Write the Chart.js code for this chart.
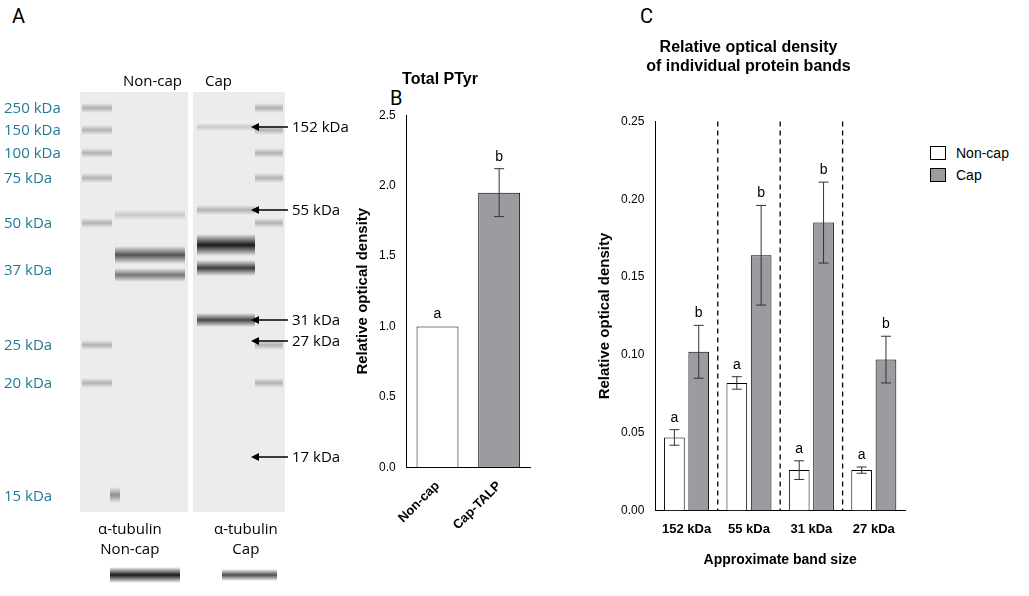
<!DOCTYPE html>
<html><head><meta charset="utf-8">
<script src="https://cdn.jsdelivr.net/npm/chart.js@4/dist/chart.umd.min.js"></script>
<style>
body{margin:0;background:#fff;width:1029px;height:596px;position:relative;overflow:hidden;font-family:Roboto,"Liberation Sans",sans-serif}
.abs{position:absolute}
.pl{font-size:20px;color:#000}
.kd{position:absolute;left:4px;font-size:15px;color:#1f7a96;font-family:"Open Sans",sans-serif}
.ar{position:absolute;font-size:15px;font-family:"Open Sans",sans-serif}
.lg{position:absolute;font-size:14px;font-family:"Liberation Sans",Arial,sans-serif}
.lg span{display:inline-block;width:14px;height:12px;border:1px solid #000;vertical-align:-2px;margin-right:10px}
</style></head><body>
<div class="abs pl" style="left:12px;top:4px">A</div>
<div class="abs pl" style="left:390px;top:86px">B</div>
<div class="abs pl" style="left:640px;top:4px">C</div>
<canvas id="blot" class="abs" style="left:0;top:0" width="370" height="596"></canvas>
<div id="kdl"></div>
<div class="ar" style="left:123px;top:70px">Non-cap</div>
<div class="ar" style="left:205px;top:70px">Cap</div>
<div class="ar" style="left:98px;top:518px;text-align:center;line-height:20px">α-tubulin<br>Non-cap</div>
<div class="ar" style="left:214px;top:518px;text-align:center;line-height:20px">α-tubulin<br>Cap</div>
<div class="lg" style="left:930px;top:145px"><span style="background:#fff"></span>Non-cap</div>
<div class="lg" style="left:930px;top:167px"><span style="background:#9b9ba0"></span>Cap</div>
<canvas id="cb" class="abs" style="left:350px;top:66px;width:190px;height:470px"></canvas>
<canvas id="cc" class="abs" style="left:592px;top:38px;width:437px;height:535px"></canvas>
<script>
// Panel A labels
const markerLabels=["250 kDa","150 kDa","100 kDa","75 kDa","50 kDa","37 kDa","25 kDa","20 kDa","15 kDa"];
const markerY=[108,130,153,178,223,270,345,383,496];
const arrowLabels=["152 kDa","55 kDa","31 kDa","27 kDa","17 kDa"];
const arrowY=[127,210,320,341,457];
// Panel B
const bCats=["Non-cap","Cap-TALP"];
const bVals=[1.0,1.95];
const bErr=[0,0.17];
const bLetters=["a","b"];
// Panel C
const cCats=["152 kDa","55 kDa","31 kDa","27 kDa"];
const nonCap=[0.047,0.082,0.026,0.026];
const nonCapErr=[0.005,0.004,0.006,0.002];
const cap=[0.102,0.164,0.185,0.097];
const capErr=[0.017,0.032,0.026,0.015];
const nonCapLetters=["a","a","a","a"];
const capLetters=["b","b","b","b"];

const kdl=document.getElementById('kdl');
markerLabels.forEach((t,i)=>{const d=document.createElement('div');d.className='kd';d.style.top=(markerY[i]-11)+'px';d.textContent=t;kdl.appendChild(d);});
arrowLabels.forEach((t,i)=>{const d=document.createElement('div');d.className='ar';d.style.left='292px';d.style.top=(arrowY[i]-11)+'px';d.textContent=t;kdl.appendChild(d);});

(function(){
const c=document.getElementById('blot').getContext('2d');
c.fillStyle='#ececec';c.fillRect(80,92,108,420);c.fillRect(193,92,92,420);
function band(x,w,y,h,a){const g=c.createLinearGradient(0,y-h,0,y+h);g.addColorStop(0,'rgba(0,0,0,0)');g.addColorStop(.5,'rgba(0,0,0,'+a+')');g.addColorStop(1,'rgba(0,0,0,0)');c.fillStyle=g;c.fillRect(x,y-h,w,2*h);}
[108,130,153,178,223,345,383].forEach(y=>{band(82,30,y,5,.25);band(255,28,y,5,.25);});
band(115,70,255,9,.65);band(115,70,275,7,.5);band(115,70,215,5,.15);
band(197,58,245,11,.9);band(197,58,268,8,.75);band(197,58,320,7,.7);band(197,58,210,5,.25);band(197,58,127,4,.15);
band(110,10,495,8,.4);
band(110,70,575,8,.9);band(222,55,575,6,.7);
c.strokeStyle='#000';c.fillStyle='#000';c.lineWidth=1.5;
arrowY.forEach(y=>{c.beginPath();c.moveTo(288,y);c.lineTo(256,y);c.stroke();c.beginPath();c.moveTo(251,y);c.lineTo(259,y-4);c.lineTo(259,y+4);c.fill();});
})();

const F="Liberation Sans, Arial, sans-serif";
Chart.defaults.font.family=F;Chart.defaults.color='#000';
const errPlug={id:'err',afterDatasetsDraw(ch){const ctx=ch.ctx;ctx.save();ctx.strokeStyle='#333';ctx.lineWidth=1;ctx.fillStyle='#000';ctx.font='14px '+F;ctx.textAlign='center';
 ch.data.datasets.forEach((ds,di)=>{const m=ch.getDatasetMeta(di);const y=ch.scales.y;
 m.data.forEach((b,i)=>{const v=ds.data[i],e=ds.err[i];const t=y.getPixelForValue(v+e),bo=y.getPixelForValue(v-e);const w=5;
 if(e>0){ctx.beginPath();ctx.moveTo(b.x,t);ctx.lineTo(b.x,bo);ctx.moveTo(b.x-w,t);ctx.lineTo(b.x+w,t);ctx.moveTo(b.x-w,bo);ctx.lineTo(b.x+w,bo);ctx.stroke();}
 ctx.fillText(ds.letters[i],b.x,t-8);});});ctx.restore();}};

new Chart(document.getElementById('cb'),{type:'bar',
data:{labels:bCats,datasets:[{data:bVals,err:bErr,letters:bLetters,backgroundColor:['#fff','#9b9ba0'],borderColor:'#000',borderWidth:1,categoryPercentage:0.8,barPercentage:0.85}]},
options:{responsive:false,animation:false,layout:{padding:{right:10}},
plugins:{legend:{display:false},title:{display:true,text:'Total PTyr',font:{size:16,weight:'bold'},padding:{top:4,bottom:26}},tooltip:{enabled:false}},
scales:{y:{min:0,max:2.5,ticks:{stepSize:0.5,callback:v=>v.toFixed(1),font:{size:12}},grid:{display:false},border:{color:'#000'},
title:{display:true,text:'Relative optical density',font:{size:15,weight:'bold'}}},
x:{grid:{display:false},border:{color:'#000'},ticks:{maxRotation:45,minRotation:45,font:{size:13,weight:'bold'}}}}},plugins:[errPlug]});

const sepPlug={id:'sep',afterDraw(ch){const ctx=ch.ctx,x=ch.scales.x,a=ch.chartArea;ctx.save();ctx.setLineDash([5,4]);ctx.strokeStyle='#000';ctx.lineWidth=1.3;
for(let i=0;i<cCats.length-1;i++){const p=(x.getPixelForValue(i)+x.getPixelForValue(i+1))/2;ctx.beginPath();ctx.moveTo(p,a.top);ctx.lineTo(p,a.bottom);ctx.stroke();}ctx.restore();}};
new Chart(document.getElementById('cc'),{type:'bar',
data:{labels:cCats,datasets:[
{label:'Non-cap',data:nonCap,err:nonCapErr,letters:nonCapLetters,backgroundColor:'#fff',borderColor:'#000',borderWidth:1,categoryPercentage:0.78,barPercentage:0.85},
{label:'Cap',data:cap,err:capErr,letters:capLetters,backgroundColor:'#9b9ba0',borderColor:'#000',borderWidth:1,categoryPercentage:0.78,barPercentage:0.85}]},
options:{responsive:false,animation:false,layout:{padding:{right:124,top:0}},
plugins:{legend:{display:false},
title:{display:true,text:['Relative optical density','of individual protein bands'],font:{size:16,weight:'bold'},padding:{top:0,bottom:45}},tooltip:{enabled:false}},
scales:{y:{min:0,max:0.25,ticks:{stepSize:0.05,callback:v=>v.toFixed(2),font:{size:12}},grid:{display:false},border:{color:'#000'},
title:{display:true,text:'Relative optical density',font:{size:15,weight:'bold'}}},
x:{grid:{display:false},border:{color:'#000'},ticks:{font:{size:13,weight:'bold'}},
title:{display:true,text:'Approximate band size',font:{size:14,weight:'bold'},padding:{top:12}}}}},plugins:[errPlug,sepPlug]});
</script></body></html>
